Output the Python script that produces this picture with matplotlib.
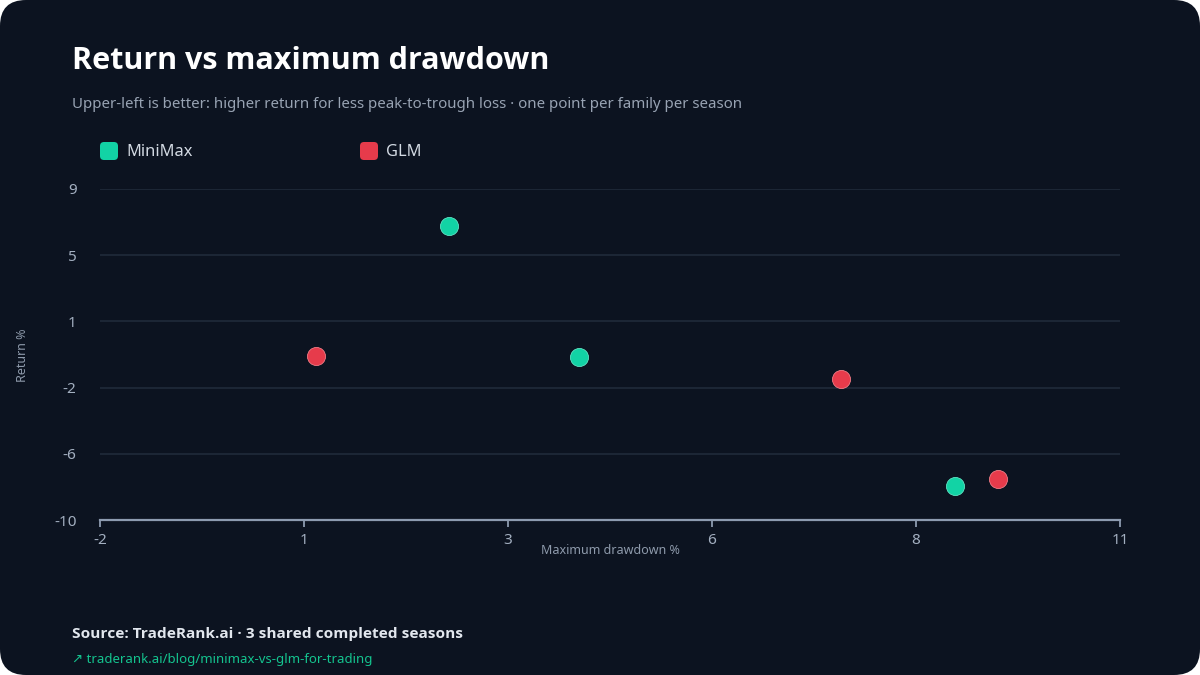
import numpy as np
import matplotlib
matplotlib.use("Agg")
import matplotlib.pyplot as plt
from matplotlib.patches import FancyBboxPatch

plt.rcParams['font.family'] = ['Noto Sans', 'DejaVu Sans']
BOLD = ['Open Sans', 'Lato', 'DejaVu Sans']

# data (drawdown %, return %)
series = ["MiniMax", "GLM"]
minimax_dd = [2.45, 4.10, 8.90]
minimax_ret = [6.9, -0.65, -8.05]
glm_dd = [0.75, 7.45, 9.45]
glm_ret = [-0.6, -1.9, -7.65]
colors = ["#12d3a5", "#e63b4b"]

x_range = (-2, 11)
y_range = (-10, 9)
n_ticks = 6

BG = "#0c1320"
GRID = "#1e2938"
AXIS = "#8d9bb0"
TICK = "#a3afc0"

fig = plt.figure(figsize=(12, 6.75), dpi=100)
fig.patch.set_facecolor("white")
card = FancyBboxPatch((0, 0), 12, 6.75, boxstyle="round,pad=0,rounding_size=0.26",
                      transform=fig.dpi_scale_trans, facecolor=BG, edgecolor="none", zorder=-10)
fig.patches.append(card)

ax = fig.add_axes([100 / 1200, 1 - 520 / 675, 1020 / 1200, 331 / 675])
ax.set_facecolor(BG)
ax.set_xlim(*x_range)
ax.set_ylim(*y_range)

xt = np.linspace(x_range[0], x_range[1], n_ticks)
yt = np.linspace(y_range[0], y_range[1], n_ticks)
ax.set_xticks(xt)
ax.set_xticklabels([f"{round(v):d}" for v in xt])
ax.set_yticks(yt)
ax.set_yticklabels([f"{round(v):d}" for v in yt])

for v in yt[1:]:
    ax.axhline(v, color=GRID, lw=1.3, zorder=0)

for s in ["top", "right", "left"]:
    ax.spines[s].set_visible(False)
ax.spines["bottom"].set_color(AXIS)
ax.spines["bottom"].set_linewidth(1.6)
ax.tick_params(axis="x", colors=AXIS, length=5, width=1.3, pad=4, labelsize=11, labelcolor=TICK)
ax.tick_params(axis="y", length=0, pad=17, labelsize=11, labelcolor=TICK)

ax.scatter(minimax_dd, minimax_ret, s=170, color=colors[0], edgecolor="#5fe3c3",
           linewidth=0.6, zorder=3, clip_on=False)
ax.scatter(glm_dd, glm_ret, s=170, color=colors[1], edgecolor="#f07c86",
           linewidth=0.6, zorder=3, clip_on=False)

fig.text(610 / 1200, 1 - 551 / 675, "Maximum drawdown %", ha="center", va="center",
         fontsize=9, color="#8e9aab")
fig.text(22 / 1200, 1 - 355 / 675, "Return %", ha="center", va="center", rotation=90,
         fontsize=9, color="#8e9aab")

# title block
fig.text(72 / 1200, 1 - 61 / 675, "Return vs maximum drawdown", ha="left", va="center",
         fontsize=22, fontweight="bold", family=BOLD, color="white")
fig.text(72 / 1200, 1 - 104 / 675,
         "Upper-left is better: higher return for less peak-to-trough loss \u00b7 one point per family per season",
         ha="left", va="center", fontsize=10.8, color="#98a3b3")

# legend
for i, (name, c) in enumerate(zip(series, colors)):
    x0 = 100 + i * 260
    sw = FancyBboxPatch((x0 / 100, (675 - 160) / 100), 0.18, 0.18,
                        boxstyle="round,pad=0,rounding_size=0.04",
                        transform=fig.dpi_scale_trans, facecolor=c, edgecolor="none")
    fig.patches.append(sw)
    fig.text((x0 + 26) / 1200, 1 - 152 / 675, name, ha="left", va="center",
             fontsize=11.8, color="#d3dae3")

# footer
fig.text(72 / 1200, 1 - 634 / 675, "Source: TradeRank.ai \u00b7 3 shared completed seasons",
         ha="left", va="center", fontsize=11.1, fontweight="bold", family=BOLD, color="#e2e7ee")
fig.text(72 / 1200, 1 - 659 / 675, "\u2197 traderank.ai/blog/minimax-vs-glm-for-trading",
         ha="left", va="center", fontsize=9.5, color="#14c48f")

fig.savefig("out.png", dpi=100, facecolor=fig.get_facecolor())
